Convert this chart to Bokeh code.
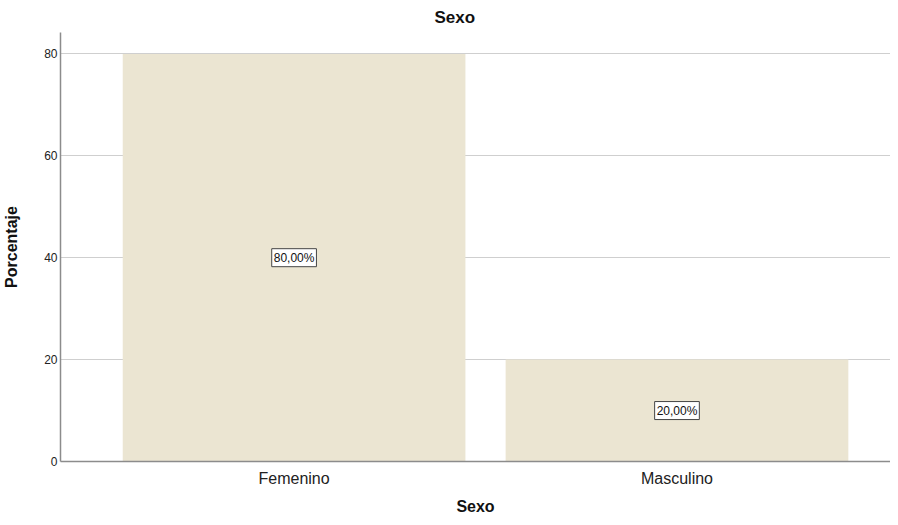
from bokeh.plotting import figure
from bokeh.models import ColumnDataSource, FixedTicker, Label, Range1d
from bokeh.embed import file_html
from bokeh.resources import INLINE

categories = ["Femenino", "Masculino"]
percentages = [80.0, 20.0]
y_ticks = [0, 20, 40, 60, 80]

FONT = "Liberation Sans"

xs = list(range(len(categories)))
labels = [f"{v:.2f}%".replace(".", ",") for v in percentages]
source = ColumnDataSource(dict(x=xs, top=percentages))

p = figure(width=890, height=517, output_backend="svg", toolbar_location=None,
           x_range=Range1d(-0.61, 1.5576), y_range=Range1d(0, 84.2),
           min_border_left=54, min_border_right=0, min_border_top=6, min_border_bottom=0)

p.vbar(x="x", top="top", width=0.895, source=source,
       fill_color="#EBE5D2", line_color=None)

for xi, v, lab in zip(xs, percentages, labels):
    p.add_layout(Label(x=xi, y=v / 2, text=lab,
                       text_align="center", text_baseline="middle",
                       text_font=FONT, text_font_size="12px", text_color="#111111",
                       background_fill_color="white", border_line_color="#444444",
                       border_line_width=1, padding=2))

p.title.text = "Sexo"
p.title.text_font = FONT
p.title.text_font_size = "17px"
p.title.text_font_style = "bold"
p.title.align = "left"
p.title.offset = 374
p.title.standoff = 11
p.title.text_color = "#111111"

p.outline_line_color = None
p.xgrid.grid_line_color = None
p.ygrid.grid_line_color = "#CFCFCF"
p.ygrid.ticker = FixedTicker(ticks=y_ticks)

xa = p.xaxis[0]
xa.ticker = FixedTicker(ticks=xs)
xa.major_label_overrides = {i: c for i, c in zip(xs, categories)}
xa.major_tick_line_color = None
xa.minor_tick_line_color = None
xa.major_tick_out = 0
xa.major_tick_in = 0
xa.minor_tick_out = 0
xa.axis_line_color = "#8C8C8C"
xa.axis_line_width = 1.5
xa.major_label_text_font = FONT
xa.major_label_text_font_size = "16px"
xa.major_label_text_color = "#222222"
xa.major_label_standoff = 8
xa.axis_label = "Sexo"
xa.axis_label_text_font = FONT
xa.axis_label_text_font_size = "16px"
xa.axis_label_text_font_style = "bold"
xa.axis_label_text_color = "#111111"
xa.axis_label_standoff = 8

ya = p.yaxis[0]
ya.ticker = FixedTicker(ticks=y_ticks)
ya.major_tick_line_color = None
ya.minor_tick_line_color = None
ya.major_tick_out = 0
ya.major_tick_in = 0
ya.minor_tick_out = 0
ya.axis_line_color = "#8C8C8C"
ya.axis_line_width = 1.5
ya.major_label_text_font = FONT
ya.major_label_text_font_size = "12px"
ya.major_label_text_color = "#222222"
ya.major_label_standoff = 3
ya.axis_label = "Porcentaje"
ya.axis_label_text_font = FONT
ya.axis_label_text_font_size = "16px"
ya.axis_label_text_font_style = "bold"
ya.axis_label_text_color = "#111111"
ya.axis_label_standoff = 21

open("out.html", "w").write(file_html(p, INLINE))
